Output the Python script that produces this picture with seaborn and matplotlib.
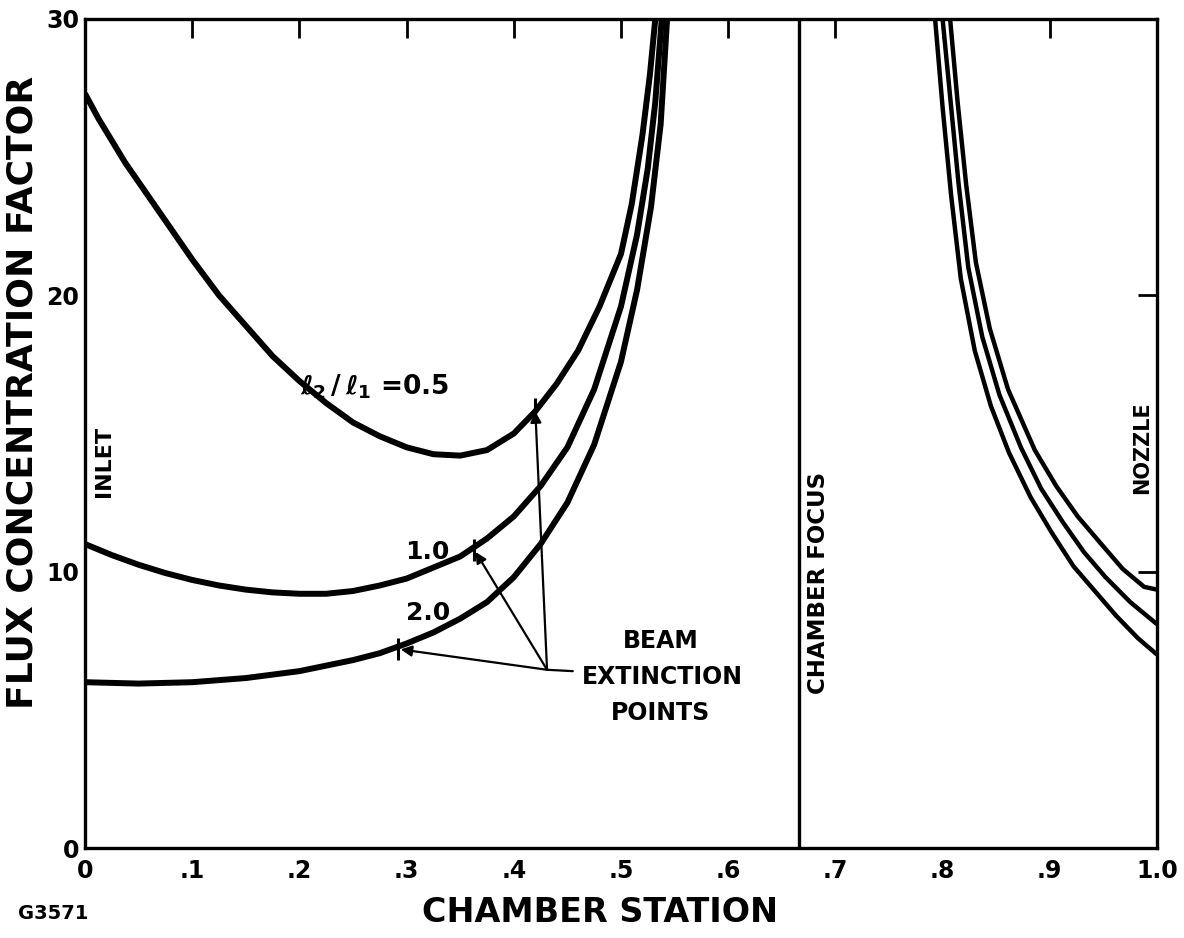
import numpy as np
import pandas as pd
import matplotlib
matplotlib.use("Agg")
import matplotlib.pyplot as plt
import seaborn as sns

# ---------------- data ----------------
# left branch (inlet side), ratio l2/l1 = 0.5
x_05 = [0.0, 0.0125, 0.025, 0.0375, 0.05, 0.075, 0.1, 0.125, 0.15, 0.175, 0.2, 0.225, 0.25, 0.275,
        0.3, 0.325, 0.35, 0.375, 0.4, 0.42, 0.44, 0.46, 0.48, 0.5, 0.51, 0.52, 0.527, 0.532]
y_05 = [27.3, 26.4, 25.6, 24.8, 24.1, 22.7, 21.3, 20.0, 18.9, 17.8, 16.9, 16.1, 15.4, 14.9,
        14.5, 14.25, 14.2, 14.4, 15.0, 15.8, 16.8, 18.0, 19.6, 21.5, 23.3, 25.8, 28.0, 30.0]

# ratio 1.0
x_10 = [0.0, 0.025, 0.05, 0.075, 0.1, 0.125, 0.15, 0.175, 0.2, 0.225, 0.25, 0.275,
        0.3, 0.325, 0.35, 0.375, 0.4, 0.425, 0.45, 0.475, 0.5, 0.515, 0.525, 0.532, 0.538]
y_10 = [11.0, 10.6, 10.25, 9.95, 9.7, 9.5, 9.35, 9.25, 9.2, 9.2, 9.3, 9.5,
        9.75, 10.15, 10.55, 11.2, 12.0, 13.1, 14.5, 16.6, 19.6, 22.2, 24.6, 27.0, 30.0]

# ratio 2.0
x_20 = [0.0, 0.05, 0.1, 0.15, 0.2, 0.225, 0.25, 0.275, 0.3, 0.325, 0.35, 0.375,
        0.4, 0.425, 0.45, 0.475, 0.5, 0.515, 0.528, 0.537, 0.543]
y_20 = [6.0, 5.95, 6.0, 6.15, 6.4, 6.6, 6.8, 7.05, 7.4, 7.8, 8.3, 8.9,
        9.8, 11.0, 12.5, 14.6, 17.6, 20.2, 23.2, 26.2, 30.0]

# right branch (nozzle side), three curves
x_ra = [0.793, 0.80, 0.808, 0.817, 0.83, 0.845, 0.862, 0.882, 0.902, 0.922, 0.942, 0.962, 0.982, 1.0]
y_ra = [30.0, 26.8, 23.6, 20.6, 18.0, 16.0, 14.3, 12.7, 11.4, 10.2, 9.3, 8.4, 7.6, 7.0]
x_rb = [0.80, 0.808, 0.815, 0.824, 0.837, 0.853, 0.873, 0.892, 0.912, 0.932, 0.952, 0.975, 1.0]
y_rb = [30.0, 26.8, 24.0, 21.0, 18.5, 16.4, 14.5, 13.0, 11.8, 10.7, 9.8, 8.9, 8.1]
x_rc = [0.807, 0.814, 0.822, 0.831, 0.844, 0.861, 0.886, 0.906, 0.926, 0.948, 0.968, 0.988, 1.0]
y_rc = [30.0, 27.0, 24.0, 21.2, 18.8, 16.6, 14.4, 13.1, 12.0, 11.0, 10.1, 9.45, 9.35]

# chamber focus station
focus_x = 0.666

# beam extinction points
ext_x = [0.42, 0.363, 0.292]
ext_y = [15.9, 10.8, 7.2]
arrow_origin = (0.431, 6.45)

xticks = [0.0, 0.1, 0.2, 0.3, 0.4, 0.5, 0.6, 0.7, 0.8, 0.9, 1.0]
xtick_labels = ["0", ".1", ".2", ".3", ".4", ".5", ".6", ".7", ".8", ".9", "1.0"]
yticks = [0, 10, 20, 30]
ytick_labels = ["0", "10", "20", "30"]

# ---------------- style ----------------
sns.set_theme(style="white")
plt.rcParams['font.family'] = ['DejaVu Sans']
plt.rcParams['font.weight'] = 'bold'
plt.rcParams['mathtext.fontset'] = 'dejavusans'
plt.rcParams['text.color'] = 'black'
plt.rcParams['axes.labelcolor'] = 'black'
plt.rcParams['xtick.color'] = 'black'
plt.rcParams['ytick.color'] = 'black'

W, H = 1184, 938
fig = plt.figure(figsize=(W / 100, H / 100), dpi=100)
fig.patch.set_facecolor('white')
ax = fig.add_axes([85 / W, 1 - 848 / H, (1157 - 85) / W, (848 - 19) / H])
ax.set_facecolor('white')

left_curves = [(x_05, y_05), (x_10, y_10), (x_20, y_20)]
right_curves = [(x_ra, y_ra), (x_rb, y_rb), (x_rc, y_rc)]

for xs, ys in left_curves:
    df = pd.DataFrame({"x": xs, "y": ys})
    sns.lineplot(data=df, x="x", y="y", ax=ax, color="black", lw=4.3,
                 sort=False, estimator=None, solid_capstyle="butt",
                 solid_joinstyle="round")
for xs, ys in right_curves:
    df = pd.DataFrame({"x": xs, "y": ys})
    sns.lineplot(data=df, x="x", y="y", ax=ax, color="black", lw=3.2,
                 sort=False, estimator=None, solid_capstyle="butt",
                 solid_joinstyle="round")

ax.axvline(focus_x, color="black", lw=2.4)

# extinction point marks
ax.plot(ext_x, ext_y, ls="none", marker="|", markersize=16, markeredgewidth=2.2,
        color="black")
for ex, ey in zip(ext_x, ext_y):
    ax.annotate("", xy=(ex, ey), xytext=arrow_origin,
                arrowprops=dict(arrowstyle="-|>", color="black", lw=1.6,
                                mutation_scale=16, shrinkA=0, shrinkB=2))
ax.plot([arrow_origin[0], 0.455], [arrow_origin[1], 6.4], color="black", lw=1.6)

ax.text(0.537, 7.5, "BEAM", ha="center", va="center", fontsize=17, fontweight="bold")
ax.text(0.539, 6.2, "EXTINCTION", ha="center", va="center", fontsize=17, fontweight="bold")
ax.text(0.537, 4.9, "POINTS", ha="center", va="center", fontsize=17, fontweight="bold")

ax.text(0.27, 16.7, r"$\ell_2\,/\,\ell_1$ =0.5", ha="center", va="center", fontsize=19)
ax.text(0.319, 10.7, "1.0", ha="center", va="center", fontsize=18, fontweight="bold")
ax.text(0.320, 8.5, "2.0", ha="center", va="center", fontsize=18, fontweight="bold")

ax.text(0.018, 14.0, "INLET", rotation=90, ha="center", va="center", fontsize=16,
        fontweight="bold")
ax.text(0.684, 9.6, "CHAMBER FOCUS", rotation=90, ha="center", va="center",
        fontsize=16.5, fontweight="bold")
ax.text(0.986, 14.5, "NOZZLE", rotation=90, ha="center", va="center", fontsize=15,
        fontweight="bold")

ax.set_xlim(0, 1.0)
ax.set_ylim(0, 30)
ax.set_xticks(xticks)
ax.set_xticklabels(xtick_labels)
ax.set_yticks(yticks)
ax.set_yticklabels(ytick_labels)
ax.tick_params(direction="in", length=14, width=2, top=True, right=True,
               labelsize=17, colors="black")
ax.tick_params(axis="x", pad=8)
ax.tick_params(axis="y", pad=4)
for lab in ax.get_xticklabels() + ax.get_yticklabels():
    lab.set_fontweight("bold")
for s in ax.spines.values():
    s.set_linewidth(2.4)
    s.set_color("black")
ax.set_xlabel("")
ax.set_ylabel("")

fig.text(600 / W, 1 - 912 / H, "CHAMBER STATION", ha="center", va="center",
         fontsize=24, fontweight="bold")
fig.text(23 / W, 1 - 392 / H, "FLUX CONCENTRATION FACTOR", rotation=90, ha="center",
         va="center", fontsize=26, fontweight="bold")
fig.text(18 / W, 1 - 913 / H, "G3571", ha="left", va="center", fontsize=14,
         fontweight="bold")

fig.savefig("out.png", dpi=100, facecolor="white")
